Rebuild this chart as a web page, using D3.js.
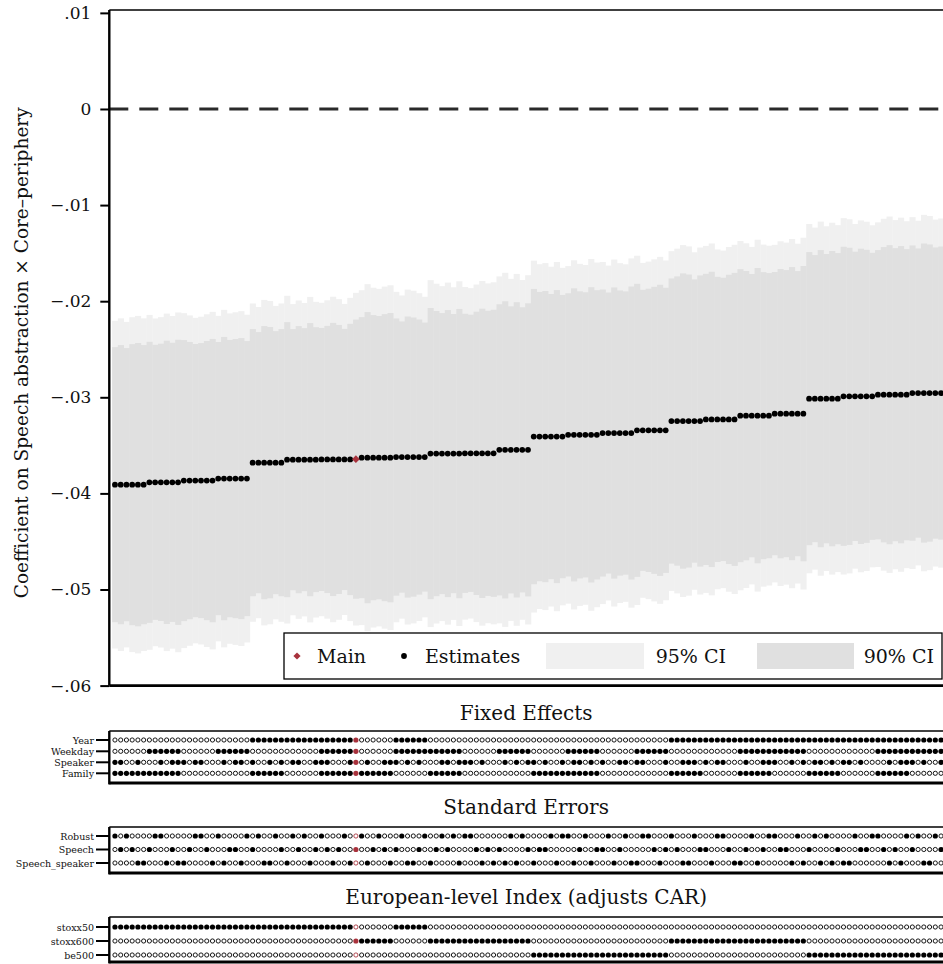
<!DOCTYPE html>
<html>
<head>
<meta charset="utf-8">
<script src="https://cdn.jsdelivr.net/npm/d3@7"></script>
<style>
  body { margin: 0; background: #fff; }
  svg { display: block; }
  text { font-family: "DejaVu Serif", serif; fill: #111; }
</style>
</head>
<body>
<svg id="chart" width="943" height="964"></svg>
<script>
// ---- Specification curve data (sorted by estimate) ----
const yTickValues = [0.01, 0, -0.01, -0.02, -0.03, -0.04, -0.05, -0.06];
const yTickLabels = [".01", "0", "\u2212.01", "\u2212.02", "\u2212.03", "\u2212.04", "\u2212.05", "\u2212.06"];
const yTitle = "Coefficient on Speech abstraction \u00d7 Core\u2013periphery";

// point estimates, one per specification (specs that differ only in SE / speaker FE share a value)
const estimate = [
  -0.03909,-0.03909,-0.03909,-0.03909,-0.03909,-0.03909,
  -0.03885,-0.03885,-0.03885,-0.03885,-0.03885,-0.03885,
  -0.03867,-0.03867,-0.03867,-0.03867,-0.03867,-0.03867,
  -0.03846,-0.03846,-0.03846,-0.03846,-0.03846,-0.03846,
  -0.03680,-0.03680,-0.03680,-0.03680,-0.03680,-0.03680,
  -0.03649,-0.03649,-0.03649,-0.03649,-0.03649,-0.03649,
  -0.03647,-0.03647,-0.03647,-0.03647,-0.03647,-0.03647,
  -0.03644,
  -0.03628,-0.03628,-0.03628,-0.03628,-0.03628,-0.03628,
  -0.03622,-0.03622,-0.03622,-0.03622,-0.03622,-0.03622,
  -0.03586,-0.03586,-0.03586,-0.03586,-0.03586,-0.03586,
  -0.03583,-0.03583,-0.03583,-0.03583,-0.03583,-0.03583,
  -0.03547,-0.03547,-0.03547,-0.03547,-0.03547,-0.03547,
  -0.03409,-0.03409,-0.03409,-0.03409,-0.03409,-0.03409,
  -0.03391,-0.03391,-0.03391,-0.03391,-0.03391,-0.03391,
  -0.03372,-0.03372,-0.03372,-0.03372,-0.03372,-0.03372,
  -0.03344,-0.03344,-0.03344,-0.03344,-0.03344,-0.03344,
  -0.03247,-0.03247,-0.03247,-0.03247,-0.03247,-0.03247,
  -0.03230,-0.03230,-0.03230,-0.03230,-0.03230,-0.03230,
  -0.03191,-0.03191,-0.03191,-0.03191,-0.03191,-0.03191,
  -0.03170,-0.03170,-0.03170,-0.03170,-0.03170,-0.03170,
  -0.03014,-0.03014,-0.03014,-0.03014,-0.03014,-0.03014,
  -0.02990,-0.02990,-0.02990,-0.02990,-0.02990,-0.02990,
  -0.02973,-0.02973,-0.02973,-0.02973,-0.02973,-0.02973,
  -0.02956,-0.02956,-0.02956,-0.02956,-0.02956,-0.02956
];

// standard errors, one per specification
const stdError = [
  0.00870,0.00883,0.00864,0.00889,0.00896,0.00883,
  0.00889,0.00870,0.00877,0.00896,0.00883,0.00902,
  0.00889,0.00877,0.00864,0.00870,0.00883,0.00896,
  0.00864,0.00896,0.00877,0.00883,0.00889,0.00870,
  0.00845,0.00826,0.00864,0.00858,0.00832,0.00845,
  0.00870,0.00826,0.00845,0.00832,0.00864,0.00838,
  0.00832,0.00845,0.00864,0.00851,0.00826,0.00858,
  0.00883,
  0.00889,0.00921,0.00902,0.00896,0.00908,0.00915,
  0.00877,0.00858,0.00889,0.00883,0.00870,0.00851,
  0.00921,0.00902,0.00889,0.00908,0.00883,0.00915,
  0.00883,0.00877,0.00896,0.00915,0.00902,0.00908,
  0.00921,0.00940,0.00908,0.00934,0.00902,0.00927,
  0.00934,0.00915,0.00921,0.00902,0.00927,0.00896,
  0.00896,0.00927,0.00908,0.00902,0.00934,0.00915,
  0.00908,0.00889,0.00921,0.00902,0.00896,0.00927,
  0.00927,0.00889,0.00896,0.00908,0.00921,0.00902,
  0.00902,0.00915,0.00934,0.00927,0.00896,0.00921,
  0.00921,0.00934,0.00902,0.00896,0.00915,0.00927,
  0.00927,0.00915,0.00896,0.00934,0.00908,0.00902,
  0.00896,0.00915,0.00908,0.00927,0.00902,0.00934,
  0.00927,0.00908,0.00940,0.00915,0.00934,0.00921,
  0.00946,0.00940,0.00915,0.00934,0.00927,0.00908,
  0.00915,0.00934,0.00946,0.00927,0.00940,0.00921,
  0.00934,0.00915,0.00946,0.00940,0.00921,0.00927
];

const mainSpec = 42;   // position of the preferred specification
const z95 = 1.96, z90 = 1.645;

// indicator rows: 1 = option used in that specification
const feNames = ["Year", "Weekday", "Speaker", "Family"];
const feYear    = "000000 000000 000000 000000 111111 111111 111111 1 000000 111111 000000 000000 000000 000000 000000 000000 000000 111111 111111 111111 111111 111111 111111 111111 111111";
const feWeekday = "000000 111111 000000 111111 000000 000000 111111 1 000000 111111 111111 000000 111111 000000 111111 000000 111111 000000 000000 111111 111111 000000 000000 111111 111111";
const feSpeaker = "110010 001011 101100 010110 100101 011001 110001 1 010011 101010 001101 110100 010101 101001 011010 100110 110001 001110 101100 010011 100101 011010 110100 001011 101001";
const feFamily  = "111111 111111 000000 000000 111111 000000 111111 1 111111 000000 111111 000000 000000 111111 111111 000000 000000 111111 000000 111111 000000 111111 000000 111111 000000";

const seNames = ["Robust", "Speech", "Speech_speaker"];
const seRobust  = "101000 011000 001100 100001 010010 010100 100010 0 100100 010001 001010 110000 001010 000101 100100 010010 011000 100010 001100 001001 100010 010100 001001 100001 010010";
const seSpeech  = "010100 100010 010010 001100 100001 001001 010100 1 001010 100010 010100 001010 100001 011000 001001 100100 000101 010001 100010 010010 011000 100001 000110 010100 100001";
const seSpSpk   = "000011 000101 100001 010010 001100 100010 001001 0 010001 001100 100001 000101 010100 100010 010010 001001 100010 001100 010001 100100 000101 001010 110000 001010 001100";

const indexNames = ["stoxx50", "stoxx600", "be500"];
const idxStoxx50  = "111111 111111 111111 111111 111111 111111 111111 0 000000 111111 000000 000000 000000 000000 000000 000000 000000 000000 000000 000000 000000 000000 000000 000000 000000";
const idxStoxx600 = "000000 000000 000000 000000 000000 000000 000000 1 111111 000000 111111 111111 111111 000000 000000 000000 000000 111111 111111 111111 111111 000000 000000 000000 000000";
const idxBe500    = "000000 000000 000000 000000 000000 000000 000000 0 000000 000000 000000 000000 000000 111111 111111 111111 111111 000000 000000 000000 000000 111111 111111 111111 111111";

// ---- drawing ----
const bits = s => s.replace(/\s/g, "").split("").map(Number);
const N = estimate.length;
const RED = "#a8323c", LIGHT = "#f0f0f0", DARK = "#e0e0e0";

const svg = d3.select("#chart");
const axisX = 109.3, plotTop = 10, plotBottom = 685.6, plotRight = 943;

const x = d3.scaleLinear().domain([-0.5, N - 0.5]).range([112.1, 943.9]);
const y = d3.scaleLinear().domain([-0.06, 0.0103]).range([plotBottom, plotTop]);
const bw = x(1) - x(0);

const specs = d3.range(N).map(i => ({
  i, est: estimate[i], se: stdError[i],
  lo95: estimate[i] - z95 * stdError[i], hi95: estimate[i] + z95 * stdError[i],
  lo90: estimate[i] - z90 * stdError[i], hi90: estimate[i] + z90 * stdError[i]
}));

// confidence bands
const plot = svg.append("g");
plot.selectAll("rect.ci95").data(specs).join("rect")
  .attr("x", d => x(d.i - 0.5)).attr("width", bw + 0.4)
  .attr("y", d => y(d.hi95)).attr("height", d => y(d.lo95) - y(d.hi95))
  .attr("fill", LIGHT);
plot.selectAll("rect.ci90").data(specs).join("rect")
  .attr("x", d => x(d.i - 0.5)).attr("width", bw + 0.4)
  .attr("y", d => y(d.hi90)).attr("height", d => y(d.lo90) - y(d.hi90))
  .attr("fill", DARK);

// zero reference line
plot.append("line")
  .attr("x1", axisX).attr("x2", plotRight).attr("y1", y(0)).attr("y2", y(0))
  .attr("stroke", "#2a2a2a").attr("stroke-width", 2.8).attr("stroke-dasharray", "19,11");

// estimates
plot.selectAll("circle.est").data(specs.filter(d => d.i !== mainSpec)).join("circle")
  .attr("cx", d => x(d.i)).attr("cy", d => y(d.est)).attr("r", 2.9).attr("fill", "#000");
const diamond = d3.symbol(d3.symbolSquare, 30);
plot.append("path").attr("d", diamond())
  .attr("transform", `translate(${x(mainSpec)},${y(estimate[mainSpec])}) rotate(45)`)
  .attr("fill", RED);

// frame and y axis
svg.append("line").attr("x1", axisX).attr("x2", plotRight).attr("y1", plotTop).attr("y2", plotTop)
  .attr("stroke", "#000").attr("stroke-width", 1.3);
svg.append("line").attr("x1", axisX).attr("x2", plotRight).attr("y1", plotBottom).attr("y2", plotBottom)
  .attr("stroke", "#000").attr("stroke-width", 2.6);
const yAxis = d3.axisLeft(y).tickValues(yTickValues).tickSize(9).tickPadding(9)
  .tickFormat((d, k) => yTickLabels[k]);
const ya = svg.append("g").attr("transform", `translate(${axisX},0)`).call(yAxis);
ya.select(".domain").attr("d", `M0,${plotTop}V${plotBottom}`).attr("stroke", "#000").attr("stroke-width", 2.4);
ya.selectAll(".tick line").attr("stroke", "#000").attr("stroke-width", 2);
ya.selectAll(".tick text").attr("font-family", "DejaVu Serif").attr("font-size", 17).attr("fill", "#111");

svg.append("text").attr("transform", `translate(21,${(plotTop + plotBottom) / 2 + 5}) rotate(-90)`)
  .attr("text-anchor", "middle").attr("dominant-baseline", "central")
  .attr("font-size", 18.5).text(yTitle);

// legend
const lg = svg.append("g");
const lgTop = 633, lgBottom = 679, lgMid = (lgTop + lgBottom) / 2;
lg.append("rect").attr("x", 284).attr("y", lgTop).attr("width", 658).attr("height", lgBottom - lgTop)
  .attr("fill", "#fff").attr("stroke", "#000").attr("stroke-width", 1.3);
lg.append("path").attr("d", d3.symbol(d3.symbolSquare, 26)())
  .attr("transform", `translate(297,${lgMid}) rotate(45)`).attr("fill", RED);
lg.append("text").attr("x", 317).attr("y", lgMid).attr("dominant-baseline", "central").attr("font-size", 19).text("Main");
lg.append("circle").attr("cx", 404).attr("cy", lgMid).attr("r", 2.9).attr("fill", "#000");
lg.append("text").attr("x", 425).attr("y", lgMid).attr("dominant-baseline", "central").attr("font-size", 19).text("Estimates");
lg.append("rect").attr("x", 546).attr("y", lgMid - 13).attr("width", 98).attr("height", 26).attr("fill", LIGHT);
lg.append("text").attr("x", 726).attr("y", lgMid).attr("text-anchor", "end").attr("dominant-baseline", "central").attr("font-size", 19).text("95% CI");
lg.append("rect").attr("x", 757).attr("y", lgMid - 13).attr("width", 97).attr("height", 26).attr("fill", DARK);
lg.append("text").attr("x", 934).attr("y", lgMid).attr("text-anchor", "end").attr("dominant-baseline", "central").attr("font-size", 19).text("90% CI");

// indicator panels
const panels = [
  { title: "Fixed Effects", titleY: 713, top: 731, bottom: 783,
    rows: [[feNames[0], feYear], [feNames[1], feWeekday], [feNames[2], feSpeaker], [feNames[3], feFamily]],
    rowY: [740, 751.3, 762.3, 773.3] },
  { title: "Standard Errors", titleY: 807, top: 827, bottom: 873,
    rows: [[seNames[0], seRobust], [seNames[1], seSpeech], [seNames[2], seSpSpk]],
    rowY: [836, 849.5, 863] },
  { title: "European-level Index (adjusts CAR)", titleY: 897, top: 917, bottom: 962,
    rows: [[indexNames[0], idxStoxx50], [indexNames[1], idxStoxx600], [indexNames[2], idxBe500]],
    rowY: [927, 941, 955] }
];

panels.forEach(p => {
  const g = svg.append("g");
  g.append("text").attr("x", (axisX + plotRight) / 2).attr("y", p.titleY)
    .attr("text-anchor", "middle").attr("dominant-baseline", "central").attr("font-size", 20).text(p.title);
  g.append("line").attr("x1", axisX).attr("x2", plotRight).attr("y1", p.top).attr("y2", p.top)
    .attr("stroke", "#000").attr("stroke-width", 1.3);
  g.append("line").attr("x1", axisX).attr("x2", plotRight).attr("y1", p.bottom).attr("y2", p.bottom)
    .attr("stroke", "#000").attr("stroke-width", 2.8);
  g.append("line").attr("x1", axisX).attr("x2", axisX).attr("y1", p.top).attr("y2", p.bottom + 1.4)
    .attr("stroke", "#000").attr("stroke-width", 2.4);

  p.rows.forEach(([name, pattern], r) => {
    const ry = p.rowY[r];
    g.append("line").attr("x1", 96).attr("x2", axisX).attr("y1", ry).attr("y2", ry)
      .attr("stroke", "#000").attr("stroke-width", 2);
    g.append("text").attr("x", 94).attr("y", ry).attr("text-anchor", "end")
      .attr("dominant-baseline", "central").attr("font-size", 9.5).text(name);
    const vals = bits(pattern);
    g.selectAll(null).data(vals.map((v, i) => ({ v, i }))).join("circle")
      .attr("cx", d => x(d.i)).attr("cy", ry)
      .attr("r", d => d.v ? 2.6 : 2.1)
      .attr("fill", d => d.v ? (d.i === mainSpec ? RED : "#000") : "#fff")
      .attr("stroke", d => d.i === mainSpec ? RED : "#000")
      .attr("stroke-width", d => d.v ? 0 : 0.9);
  });
});
</script>
</body>
</html>
